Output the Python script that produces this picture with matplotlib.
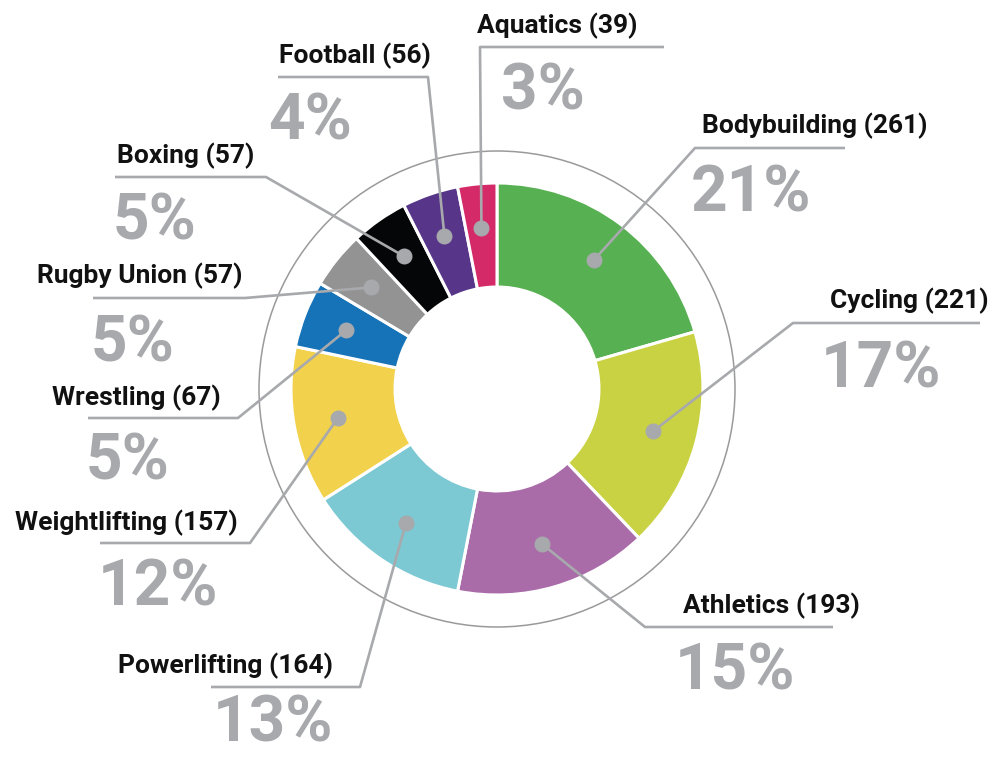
import matplotlib.pyplot as plt
import numpy as np

# data (clockwise from 12 o'clock)
sports = ['Bodybuilding', 'Cycling', 'Athletics', 'Powerlifting', 'Weightlifting',
          'Wrestling', 'Rugby Union', 'Boxing', 'Football', 'Aquatics']
counts = [261, 221, 193, 164, 157, 67, 57, 57, 56, 39]
pct_labels = ['21%', '17%', '15%', '13%', '12%', '5%', '5%', '5%', '4%', '3%']
colors = ['#57b051', '#c9d243', '#a96ca9', '#7cc9d4', '#f2d24c',
          '#1673b8', '#939393', '#050607', '#573588', '#d42a68']

# label layout in image pixels: name (x, baseline), percent (x, baseline),
# leader elbow x, far end x, line y
name_xy = [(702, 133), (830, 308), (683, 613), (118, 673), (15, 530),
           (52, 405), (37, 283), (117, 163), (279, 63), (477, 33)]
pct_xy = [(691, 212), (821, 387), (675, 690), (213, 742), (98, 606),
          (86, 480), (91, 362), (113, 240), (268, 140), (501, 110)]
line_xy = [(695, 845, 148), (793, 980, 323), (645, 833, 627), (360, 211, 687),
           (250, 100, 543), (238, 88, 418), (245, 93, 298), (266, 115, 177),
           (428, 278, 77), (480, 664, 47)]

W, H = 996, 757
cx, cy, R = 497, 389, 206
GRAY = '#a7a9ac'


def iy(y):
    return H - y


fig = plt.figure(figsize=(W / 100, H / 100), dpi=100)
ax = fig.add_axes([0, 0, 1, 1])

wedges, _ = ax.pie(counts, colors=colors, startangle=90, counterclock=False,
                   radius=R, center=(cx, iy(cy)),
                   wedgeprops=dict(width=R * 0.505, edgecolor='white', linewidth=2.2))

# thin outer ring
ax.add_patch(plt.Circle((cx, iy(cy)), 238, fill=False, ec='#9a9a9a', lw=1.1))

for w, name, n, pct, nxy, pxy, (ex, fx, ly) in zip(
        wedges, sports, counts, pct_labels, name_xy, pct_xy, line_xy):
    ang = np.deg2rad((w.theta1 + w.theta2) / 2)
    dx = cx + 0.785 * R * np.cos(ang)
    dy = iy(cy) + 0.785 * R * np.sin(ang)
    ax.plot([dx, ex, fx], [dy, iy(ly), iy(ly)], color=GRAY, lw=1.9,
            solid_capstyle='butt', zorder=3)
    ax.plot(dx, dy, 'o', ms=10.5, color=GRAY, zorder=4)
    ax.text(nxy[0], iy(nxy[1]), f'{name} ({n})', family='Roboto',
            fontweight='bold', fontsize=19, color='#111111', va='baseline')
    ax.text(pxy[0], iy(pxy[1]), pct, family='Roboto', fontweight='bold',
            fontsize=46, color=GRAY, va='baseline')

ax.set_xlim(0, W)
ax.set_ylim(0, H)
ax.set_aspect('equal')
ax.axis('off')

fig.savefig('out.png', dpi=100, facecolor='white')
